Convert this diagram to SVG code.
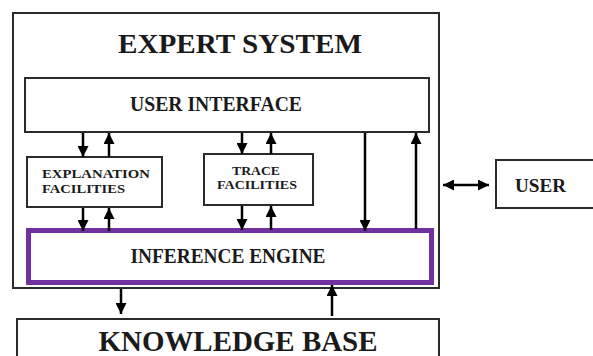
<svg xmlns="http://www.w3.org/2000/svg" width="593" height="356" viewBox="0 0 593 356">
  <style>
    .box { fill: #ffffff; stroke: #2b2b2b; stroke-width: 2; }
    .ie { fill: #ffffff; stroke: #7030a0; stroke-width: 5; }
    .lbl { font-family: "Liberation Serif", "Times New Roman", serif; font-weight: bold; fill: #1a1a1a; }
    .wire { fill: none; stroke: #000000; stroke-width: 2.5; }
  </style>
  <defs>
    <marker id="head" viewBox="0 0 10 10" refX="10" refY="5" markerWidth="11" markerHeight="11" markerUnits="userSpaceOnUse" orient="auto-start-reverse">
      <path d="M0,0 L10,5 L0,10 Z" fill="#000000"/>
    </marker>
  </defs>

  <rect width="593" height="356" fill="#ffffff"/>

  <g id="expert-system">
    <rect class="box" x="13" y="13" width="426" height="275"/>
    <text class="lbl" x="240" y="53" font-size="28" text-anchor="middle" textLength="244" lengthAdjust="spacingAndGlyphs">EXPERT SYSTEM</text>
  </g>

  <g id="user-interface">
    <rect class="box" x="25" y="78" width="404" height="54"/>
    <text class="lbl" x="216" y="111" font-size="20" text-anchor="middle" textLength="172" lengthAdjust="spacingAndGlyphs">USER INTERFACE</text>
  </g>

  <g id="explanation-facilities">
    <rect class="box" x="27" y="157" width="135" height="50"/>
    <text class="lbl" x="42" y="178" font-size="12.5" textLength="108" lengthAdjust="spacingAndGlyphs">EXPLANATION</text>
    <text class="lbl" x="42" y="192.5" font-size="12.5" textLength="83" lengthAdjust="spacingAndGlyphs">FACILITIES</text>
  </g>

  <g id="trace-facilities">
    <rect class="box" x="204" y="154" width="109" height="51"/>
    <text class="lbl" x="256" y="174.5" font-size="12" text-anchor="middle" textLength="48" lengthAdjust="spacingAndGlyphs">TRACE</text>
    <text class="lbl" x="257" y="188.5" font-size="12" text-anchor="middle" textLength="80" lengthAdjust="spacingAndGlyphs">FACILITIES</text>
  </g>

  <g id="inference-engine">
    <rect class="ie" x="28.5" y="230.5" width="403" height="52"/>
    <text class="lbl" x="228" y="263" font-size="20" text-anchor="middle" textLength="195" lengthAdjust="spacingAndGlyphs">INFERENCE ENGINE</text>
  </g>

  <g id="knowledge-base">
    <rect class="box" x="17" y="319" width="422" height="60"/>
    <text class="lbl" x="238" y="351" font-size="30" text-anchor="middle" textLength="279" lengthAdjust="spacingAndGlyphs">KNOWLEDGE BASE</text>
  </g>

  <g id="user">
    <rect class="box" x="496" y="160" width="120" height="48"/>
    <text class="lbl" x="515" y="192" font-size="19" textLength="51" lengthAdjust="spacingAndGlyphs">USER</text>
  </g>

  <g id="connectors">
    <!-- user interface <-> explanation facilities -->
    <line class="wire" x1="83" y1="133" x2="83" y2="157" marker-end="url(#head)"/>
    <line class="wire" x1="109" y1="157" x2="109" y2="133" marker-end="url(#head)"/>
    <!-- explanation facilities <-> inference engine -->
    <line class="wire" x1="83" y1="208" x2="83" y2="231" marker-end="url(#head)"/>
    <line class="wire" x1="109" y1="231" x2="109" y2="208" marker-end="url(#head)"/>
    <!-- user interface <-> trace facilities -->
    <line class="wire" x1="242" y1="133" x2="242" y2="154" marker-end="url(#head)"/>
    <line class="wire" x1="271" y1="154" x2="271" y2="133" marker-end="url(#head)"/>
    <!-- trace facilities <-> inference engine -->
    <line class="wire" x1="242" y1="206" x2="242" y2="230" marker-end="url(#head)"/>
    <line class="wire" x1="271" y1="230" x2="271" y2="206" marker-end="url(#head)"/>
    <!-- user interface <-> inference engine (direct) -->
    <line class="wire" x1="365" y1="133" x2="365" y2="231" marker-end="url(#head)"/>
    <line class="wire" x1="416" y1="229" x2="416" y2="133" marker-end="url(#head)"/>
    <!-- expert system <-> user -->
    <line class="wire" x1="443" y1="185" x2="489" y2="185" marker-start="url(#head)" marker-end="url(#head)"/>
    <!-- inference engine <-> knowledge base -->
    <line class="wire" x1="121" y1="289" x2="121" y2="314" marker-end="url(#head)"/>
    <line class="wire" x1="332" y1="316" x2="332" y2="285" marker-end="url(#head)"/>
  </g>
</svg>
